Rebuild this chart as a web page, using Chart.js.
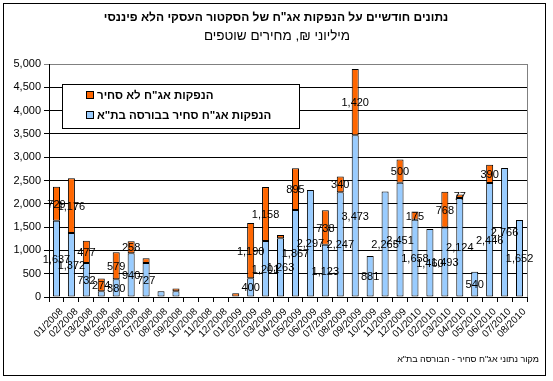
<!DOCTYPE html>
<html>
<head>
<meta charset="utf-8">
<script src="https://cdn.jsdelivr.net/npm/chart.js@4.4.1/dist/chart.umd.min.js"></script>
<style>
html,body{margin:0;padding:0;background:#fff;}
#wrap{position:relative;width:553px;height:381px;}
</style>
</head>
<body>
<div id="wrap"><canvas id="c" width="553" height="381"></canvas></div>
<script>
const titleText = 'נתונים חודשיים על הנפקות אג"ח של הסקטור העסקי הלא פיננסי';
const subtitleText = 'מיליוני ₪, מחירים שוטפים';
const sourceText = 'מקור נתוני אג"ח סחיר - הבורסה בת"א';
const seriesNames = ['הנפקות אג"ח סחיר בבורסה בת"א', 'הנפקות אג"ח לא סחיר'];

const months = ['01/2008','02/2008','03/2008','04/2008','05/2008','06/2008','07/2008','08/2008','09/2008','10/2008','11/2008','12/2008',
  '01/2009','02/2009','03/2009','04/2009','05/2009','06/2009','07/2009','08/2009','09/2009','10/2009','11/2009','12/2009',
  '01/2010','02/2010','03/2010','04/2010','05/2010','06/2010','07/2010','08/2010'];

const tradable = [1637,1372,732,124,380,940,727,125,125,null,null,null,
  null,400,1201,1263,1867,2297,1123,2247,3473,881,2265,2451,
  1658,1460,1493,2124,540,2446,2766,1652];

const nonTradable = [729,1176,477,274,579,258,107,null,60,null,null,null,
  80,1190,1158,65,895,null,738,340,1420,null,null,500,
  175,null,768,77,null,390,null,null];

const tradableLabelHidden = [3,7,8];
const nonTradableLabelHidden = [6,8,12,15];

const yTicks = [0,500,1000,1500,2000,2500,3000,3500,4000,4500,5000];

const BLUE = '#99CCFF', ORANGE = '#FF6600';
const FONT = "'Liberation Sans', Arial, sans-serif";

const deco = {
  id: 'deco',
  beforeDraw(chart) {
    const ctx = chart.ctx;
    ctx.save();
    ctx.fillStyle = '#fff';
    ctx.fillRect(0, 0, chart.width, chart.height);
    ctx.restore();
  },
  afterDatasetsDraw(chart) {
    const ctx = chart.ctx;
    ctx.save();
    ctx.font = '11px ' + FONT;
    ctx.fillStyle = '#000';
    ctx.textAlign = 'center';
    ctx.textBaseline = 'middle';
    const hidden = [tradableLabelHidden, nonTradableLabelHidden];
    chart.data.datasets.forEach((ds, di) => {
      const meta = chart.getDatasetMeta(di);
      meta.data.forEach((el, i) => {
        const v = ds.data[i];
        if (v == null || hidden[di].includes(i)) return;
        const y = (el.y + el.base) / 2;
        ctx.fillText(v.toLocaleString('en-US'), el.x, y + 1);
      });
    });
    ctx.restore();
  },
  afterDraw(chart) {
    const ctx = chart.ctx;
    const a = chart.chartArea;
    ctx.save();
    ctx.strokeStyle = '#808080';
    ctx.lineWidth = 1;
    ctx.beginPath();
    ctx.moveTo(Math.round(a.right) + 0.5, a.top);
    ctx.lineTo(Math.round(a.right) + 0.5, a.bottom);
    ctx.stroke();
    ctx.strokeStyle = '#000';
    ctx.strokeRect(3.5, 3.5, 542, 372);
    ctx.direction = 'rtl';
    ctx.fillStyle = '#000';
    ctx.textAlign = 'center';
    ctx.textBaseline = 'middle';
    ctx.font = 'bold 12px ' + FONT;
    ctx.fillText(titleText, 276, 18);
    ctx.font = '13.5px ' + FONT;
    ctx.fillText(subtitleText, 277, 36);
    ctx.font = '9px ' + FONT;
    ctx.textAlign = 'right';
    ctx.fillText(sourceText, 539, 360);
    ctx.direction = 'ltr';
    ctx.fillStyle = '#fff';
    ctx.fillRect(62, 84, 237, 44);
    ctx.strokeStyle = '#000';
    ctx.strokeRect(62.5, 84.5, 237, 44);
    const entries = [[seriesNames[1], ORANGE, 95], [seriesNames[0], BLUE, 115]];
    entries.forEach(([txt, col, y]) => {
      ctx.fillStyle = col;
      ctx.fillRect(87, y - 3, 6, 6);
      ctx.strokeStyle = '#000';
      ctx.strokeRect(86.5, y - 3.5, 7, 7);
      ctx.fillStyle = '#000';
      ctx.font = 'bold 11.5px ' + FONT;
      ctx.direction = 'rtl';
      ctx.textAlign = 'left';
      ctx.fillText(txt, 97, y + 1);
      ctx.direction = 'ltr';
    });
    ctx.restore();
  }
};

new Chart(document.getElementById('c'), {
  type: 'bar',
  data: {
    labels: months,
    datasets: [
      { label: seriesNames[0], data: tradable, backgroundColor: BLUE, borderColor: '#000', borderWidth: 1, borderSkipped: false },
      { label: seriesNames[1], data: nonTradable, backgroundColor: ORANGE, borderColor: '#000', borderWidth: 1, borderSkipped: false }
    ]
  },
  options: {
    responsive: false,
    animation: false,
    devicePixelRatio: 1,
    layout: { padding: { top: 64, right: 26, bottom: 0, left: 0 } },
    datasets: { bar: { barPercentage: 0.47, categoryPercentage: 1.0 } },
    plugins: { legend: { display: false }, title: { display: false }, tooltip: { enabled: false } },
    scales: {
      x: {
        stacked: true,
        afterFit(s) { s.height = 84; },
        border: { color: '#000', width: 1 },
        grid: { display: true, drawOnChartArea: false, drawTicks: true, tickLength: 5, offset: true, color: '#000' },
        ticks: { autoSkip: false, maxRotation: 45, minRotation: 45, padding: 4, labelOffset: 5, color: '#000', font: { family: FONT, size: 10 } }
      },
      y: {
        stacked: true,
        min: 0, max: 5000,
        afterFit(s) { s.width = 49; },
        afterBuildTicks(s) { s.ticks = yTicks.map(v => ({ value: v })); },
        border: { color: '#000', width: 1 },
        grid: { color: ctx => (ctx.tick && ctx.tick.value === 5000 ? '#808080' : '#000'), tickLength: 5, drawTicks: true },
        ticks: { padding: 3, color: '#000', font: { family: FONT, size: 11 }, callback: v => v.toLocaleString('en-US') }
      }
    }
  },
  plugins: [deco]
});
</script>
</body>
</html>
